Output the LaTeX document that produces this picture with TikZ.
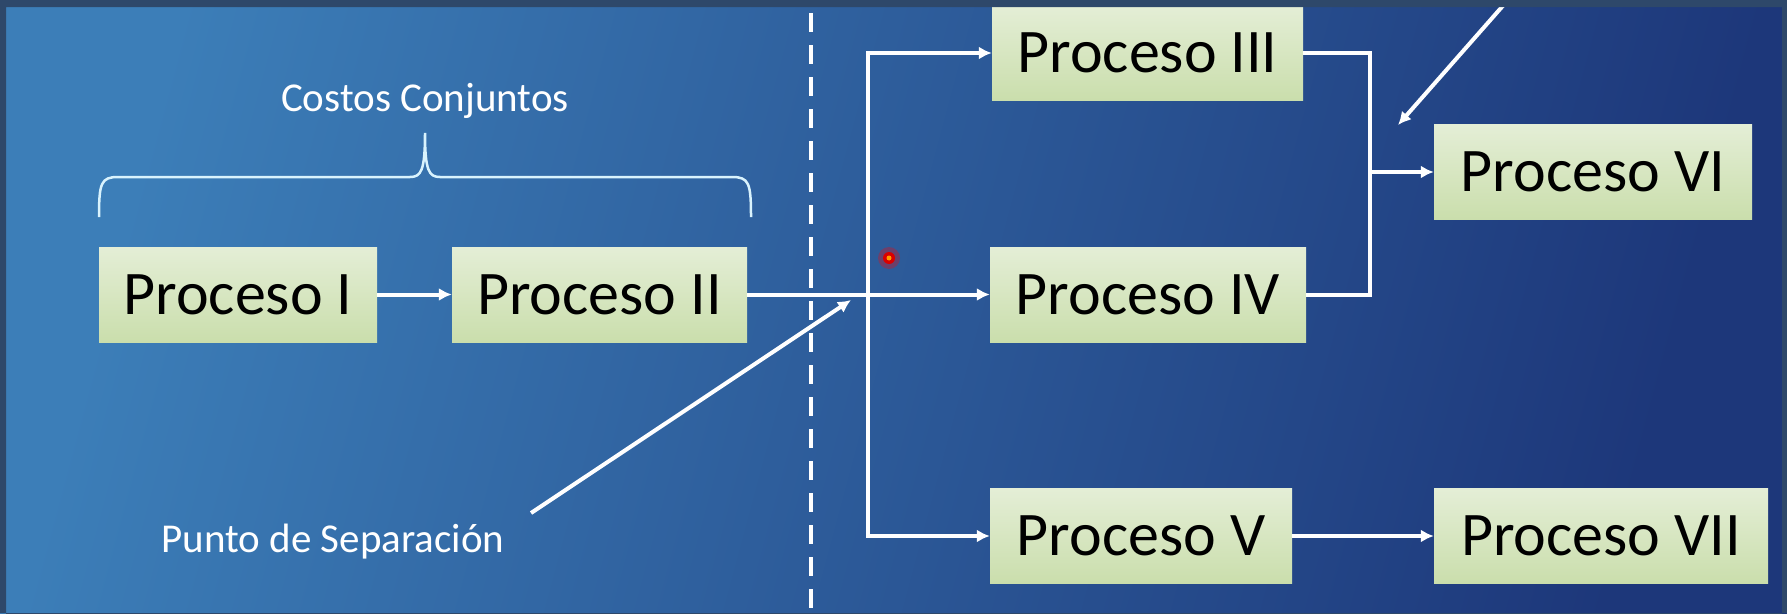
\documentclass[tikz,border=0pt]{standalone}
\usepackage{fontspec}
\setmainfont{Carlito}
\usetikzlibrary{arrows.meta,positioning,calc}

\definecolor{frameblue}{RGB}{46,72,106}
\definecolor{bgleft}{RGB}{60,126,184}
\definecolor{bgright}{RGB}{29,55,122}
\definecolor{boxtop}{RGB}{228,238,214}
\definecolor{boxbot}{RGB}{202,222,172}

\tikzset{
  proc/.style={top color=boxtop, bottom color=boxbot, minimum height=95pt, inner sep=0pt, text=black, font=\fontsize{62}{70}\selectfont},
  flow/.style={draw=white, line width=4pt, -{Latex[length=13pt,width=13pt]}},
  wire/.style={draw=white, line width=4pt},
  lbl/.style={text=white, font=\fontsize{41}{48}\selectfont}
}

\begin{document}
\begin{tikzpicture}[x=1pt, y=-1pt, line join=miter]
\useasboundingbox (0,0) rectangle (1787,613);
% background
\shade[left color=bgleft, right color=bgright, shading angle=75] (0,0) rectangle (1787,613);

% brace over the joint processes
\node[lbl] (cc) at (425,101) {Costos Conjuntos};
\draw[white!85!cyan, line width=2.5pt] (99,217) .. controls (99,183) and (101,177) .. (118,177) -- (410,177)
  .. controls (421,177) and (425,171) .. (425,133) .. controls (425,171) and (429,177) .. (440,177)
  -- (732,177) .. controls (749,177) and (751,183) .. (751,217);

% split-off line
\draw[white, line width=4pt, dash pattern=on 19pt off 13pt] (811,13) -- (811,613);

% processes
\node[proc, minimum width=278pt] (p1) at (238,294.5) {Proceso I};
\node[proc, minimum width=295pt] (p2) at (599.5,294.5) {Proceso II};
\node[proc, minimum width=311pt] (p3) at (1147.5,53) {Proceso III};
\node[proc, minimum width=316pt] (p4) at (1148,294.5) {Proceso IV};
\node[proc, minimum width=302pt] (p5) at (1141,536) {Proceso V};
\node[proc, minimum width=318pt] (p6) at (1593,172) {Proceso VI};
\node[proc, minimum width=334pt] (p7) at (1601,536) {Proceso VII};

\coordinate (split) at (868,294.5);
\coordinate (merge) at (1370,172);

\draw[flow] (p1) -- (p2);
\draw[flow] (p2) -- (p4);
\draw[flow] (split) |- (p3.west);
\draw[flow] (split) |- (p5.west);
\draw[wire] (p3.east) -| (merge) |- (p4.east);
\draw[flow] (merge) -- (p6);
\draw[flow] (p5) -- (p7);

% labels with pointers
\node[lbl] (sep) at (333,542) {Punto de Separación};
\coordinate (sepfoot) at (531,513);
\coordinate (septip) at (851,300);
\draw[flow] (sepfoot) -- (septip);
\coordinate (topfoot) at (1508,0);
\coordinate (toptip) at (1398,125);
\draw[flow] (topfoot) -- (toptip);

% pointer dot
\fill[red, opacity=0.3] (889,258) circle (11);
\fill[red!85!black] (889,258) circle (6);
\fill[orange!80!yellow] (889,258) circle (2.5);

% frame
\fill[frameblue, even odd rule] (0,0) rectangle (1787,613) (6,7) rectangle (1782,614);
\end{tikzpicture}
\end{document}
